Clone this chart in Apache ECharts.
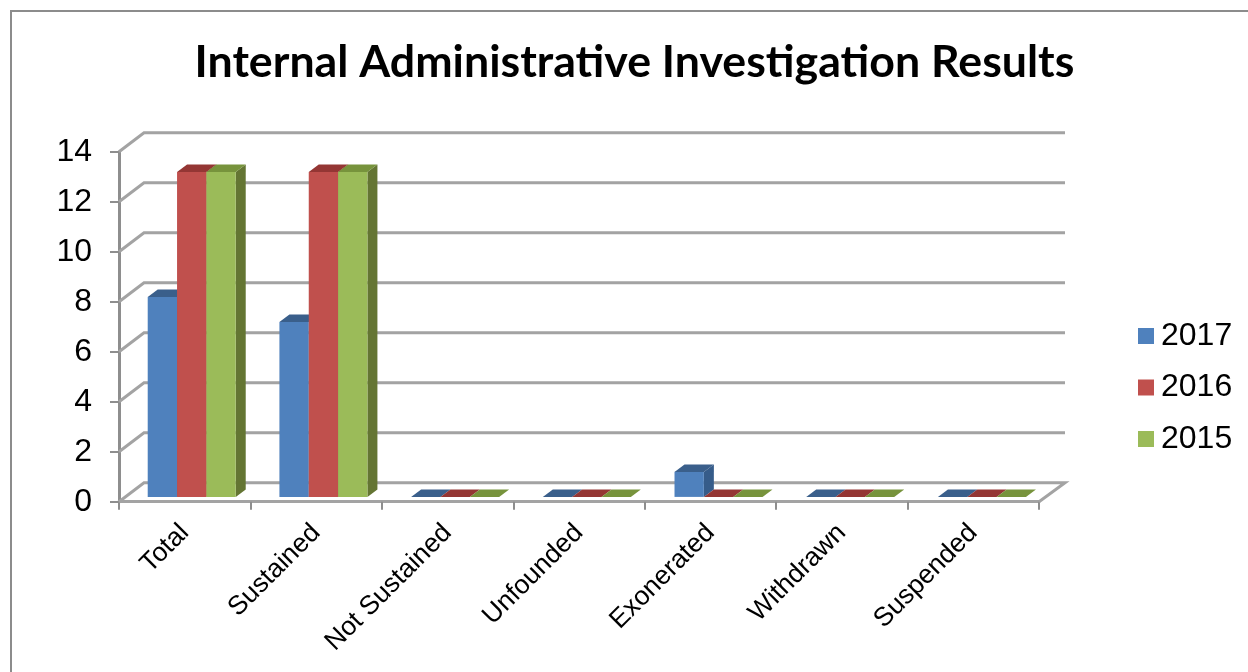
<!DOCTYPE html>
<html><head><meta charset="utf-8">
<style>html,body{margin:0;padding:0;background:#fff}#c{width:1248px;height:672px}</style>
<script src="https://cdn.jsdelivr.net/npm/echarts@6/dist/echarts.min.js"></script>
</head><body><div id="c"></div>
<script>
const categories = ['Total','Sustained','Not Sustained','Unfounded','Exonerated','Withdrawn','Suspended'];
const values2017 = [8,7,0,0,1,0,0];
const values2016 = [13,13,0,0,0,0,0];
const values2015 = [13,13,0,0,0,0,0];
const yTicks = [0,2,4,6,8,10,12,14];
const titleText = 'Internal Administrative Investigation Results';

const GRID = '#a3a3a3', AXIS = '#8e8e8e';
const WALL_DX = 25, WALL_DY = -19;
const BAR_DX = 10, BAR_DY = -7.4, BAR_OX = 0.27, BAR_OY = -4.8;

function barSeries(name, values, k, front, top, side) {
  return {
    type: 'custom', name, z: 5 + k, silent: true,
    itemStyle: { color: front },
    encode: { x: 0, y: 1 },
    data: values.map((v, i) => [i, v]),
    renderItem(params, api) {
      const band = api.size([1, 0])[0];
      const w = band * 0.2232;
      const base = api.coord([api.value(0), 0]);
      const tip = api.coord([api.value(0), api.value(1)]);
      const l = base[0] - band * 0.2815 + k * w + BAR_OX * api.value(0);
      const r = l + w;
      const b = base[1] + BAR_OY;
      const t = tip[1] + BAR_OY;
      const children = [];
      if (b - t > 0.5) {
        children.push({ type: 'polygon', shape: { points: [[r, b], [r + BAR_DX, b + BAR_DY], [r + BAR_DX, t + BAR_DY], [r, t]] }, style: { fill: side } });
        children.push({ type: 'rect', shape: { x: l, y: t, width: w, height: b - t }, style: { fill: front } });
      }
      children.push({ type: 'polygon', shape: { points: [[l, t], [r, t], [r + BAR_DX, t + BAR_DY], [l + BAR_DX, t + BAR_DY]] }, style: { fill: top } });
      return { type: 'group', children };
    }
  };
}

const wallSeries = {
  type: 'custom', name: 'wall', z: 1, silent: true,
  encode: { x: 0, y: 1 },
  data: yTicks.map(v => [0, v]),
  renderItem(params, api) {
    const cs = params.coordSys;
    const y = api.coord([0, api.value(1)])[1];
    const pts = [[cs.x, y], [cs.x + WALL_DX, y + WALL_DY], [cs.x + cs.width + WALL_DX + 1, y + WALL_DY]];
    if (api.value(1) === 0) pts.push([cs.x + cs.width, y]);
    return { type: 'polyline', shape: { points: pts }, style: { stroke: GRID, lineWidth: 3, fill: null } };
  }
};

const chart = echarts.init(document.getElementById('c'), null, { renderer: 'canvas' });
chart.setOption({
  animation: false,
  backgroundColor: '#fff',
  title: { text: titleText, left: 629.5, top: 35, textAlign: 'center',
    textStyle: { fontFamily: 'Lato', fontWeight: 'bold', fontSize: 44.7, color: '#000' } },
  graphic: [{ type: 'rect', silent: true, z: -1,
    shape: { x: 11, y: 11, width: 1400, height: 800 },
    style: { fill: 'none', stroke: '#8c8c8c', lineWidth: 2 } }],
  legend: { orient: 'vertical', left: 1133, top: 315, itemWidth: 16, itemHeight: 16, itemGap: 19.5, icon: 'rect',
    data: ['2017', '2016', '2015'],
    textStyle: { fontFamily: 'Liberation Sans', fontSize: 32, color: '#000', padding: [2, 0, 0, 2] } },
  grid: { left: 119, right: 209, top: 151.7, bottom: 170.3, containLabel: false },
  xAxis: { type: 'category', data: categories,
    axisLine: { lineStyle: { color: GRID, width: 3 } },
    axisTick: { show: true, length: 8, alignWithLabel: false, interval: 0, lineStyle: { color: AXIS, width: 2 } },
    axisLabel: { interval: 0, rotate: 45, margin: 27, fontFamily: 'Liberation Sans', fontSize: 26.5, color: '#000' } },
  yAxis: { type: 'value', min: 0, max: 14, interval: 2,
    axisLine: { show: true, lineStyle: { color: AXIS, width: 3 } },
    axisTick: { show: true, length: 9, lineStyle: { color: AXIS, width: 2 } },
    splitLine: { show: false },
    axisLabel: { margin: 27, padding: [3, 0, 0, 0], fontFamily: 'Liberation Sans', fontSize: 32, color: '#000' } },
  series: [
    wallSeries,
    barSeries('2017', values2017, 0, '#4f81bd', '#3a5f8b', '#365c8a'),
    barSeries('2016', values2016, 1, '#c0504d', '#943634', '#943634'),
    barSeries('2015', values2015, 2, '#9bbb59', '#77933c', '#647533')
  ]
});
</script></body></html>
